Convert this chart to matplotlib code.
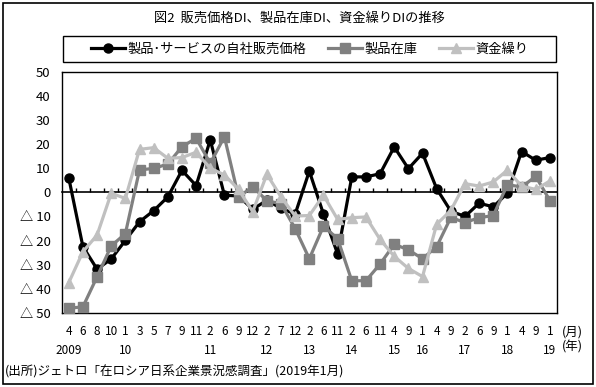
import matplotlib
matplotlib.use('Agg')
import matplotlib.pyplot as plt
from matplotlib.patches import Rectangle
import numpy as np

plt.rcParams['font.family'] = ['Noto Sans CJK JP', 'DejaVu Sans']

# survey months 2009/4 .. 2019/1
months = [4, 6, 8, 10, 1, 3, 5, 7, 9, 11, 2, 6, 9, 12, 2, 7, 12, 2, 6, 11,
          2, 6, 11, 4, 9, 1, 4, 9, 2, 6, 9, 1, 4, 9, 1]
years = ['2009', '10', '11', '12', '13', '14', '15', '16', '17', '18', '19']

price = [6, -22.5, -31.8, -27.6, -19.9, -12.2, -7.6, -1.9, 9.1, 2.8, 21.7,
         -1.2, -1.5, -7, -3.3, -6.6, -9, 8.8, -9, -25.5, 6.4, 6.4, 7.7, 18.8,
         9.8, 16.2, 1.5, -7.8, -10, -4.5, -6, -0.3, 16.9, 13.3, 14.4]
inventory = [-48, -47.4, -35, -22.2, -17.1, 9.3, 9.9, 11.7, 18.9, 22.4, 12,
             23, -2, 2.4, -3.5, -4.7, -15, -27.5, -14, -19.2, -36.6, -36.6,
             -29.7, -21.5, -23.8, -27.5, -22.5, -10.4, -12.5, -10.5, -9.6,
             3.2, 2.2, 6.6, -3.4]
funds = [-37.4, -24.6, -17.7, -0.4, -2.5, 17.8, 18.5, 14.1, 14.4, 16.6, 10,
         7.2, 1.2, -8, 7.5, -1.9, -9.8, -9.6, -1.2, -11.2, -10.5, -10.2,
         -19.5, -26.5, -31.5, -34.9, -13.2, -7.5, 3.6, 2.6, 4.3, 9.2, 2.6,
         1.2, 4.7]

labels = ['製品･サービスの自社販売価格', '製品在庫', '資金繰り']
colors = ['#000000', '#808080', '#c0c0c0']
markers = ['o', 's', '^']
msizes = [6.5, 6.5, 7]


def ylab(v):
    return '△ %d' % abs(v) if v < 0 else '%d' % v


fig = plt.figure(figsize=(5.96, 3.87), dpi=100)
ax = fig.add_axes([0.1035, 0.191, 0.831, 0.624])

x = np.arange(len(months))
for i, ser in enumerate([price, inventory, funds]):
    ax.plot(x, ser, color=colors[i], marker=markers[i], ms=msizes[i],
            lw=2.3, label=labels[i], zorder=3 + i)

ax.set_xlim(-0.5, len(months) - 0.5)
ax.set_ylim(-50, 50)
yt = np.arange(-50, 51, 10)
ax.set_yticks(yt)
ax.set_yticklabels([ylab(v) for v in yt], fontsize=9.5)
ax.tick_params(axis='y', length=0, pad=8)
ax.set_xticks(x)
ax.set_xticklabels([str(m) for m in months], fontsize=8.5)
ax.tick_params(axis='x', length=0, pad=8.5)
for s in ax.spines.values():
    s.set_linewidth(1)

# category axis crossing at zero, with ticks between categories
sec = ax.secondary_xaxis(0.5)
sec.set_xticks(np.arange(0.5, len(months) - 1, 1.0))
sec.tick_params(direction='out', length=3, width=1, labeltop=False,
                labelbottom=False)
sec.spines['top'].set_linewidth(1.2)

# year row under the first survey of each year
starts = [0] + [i for i in range(1, len(months)) if months[i] <= months[i - 1]]
tr = ax.get_xaxis_transform()
for xi, yr in zip(starts, years):
    ax.text(xi, -0.155, yr, transform=tr, ha='center', va='center',
            fontsize=8.5)
ax.text(len(months) + 0.6, -0.078, '(月)', transform=tr, ha='center',
        va='center', fontsize=9)
ax.text(len(months) + 0.6, -0.142, '(年)', transform=tr, ha='center',
        va='center', fontsize=9)

fig.text(0.503, 0.953, '図2  販売価格DI、製品在庫DI、資金繰りDIの推移',
         ha='center', va='center', fontsize=9.5)
fig.text(0.008, 0.038, '(出所)ジェトロ「在ロシア日系企業景況感調査」(2019年1月)',
         ha='left', va='center', fontsize=9)

fig.legend(loc='center', bbox_to_anchor=(0.52, 0.873), ncol=3,
           frameon=False, fontsize=9.5, handlelength=2.6, handletextpad=0.2,
           columnspacing=1.6, borderaxespad=0)
fig.add_artist(Rectangle((63 / 596, 1 - 62 / 387), 493 / 596, 26 / 387,
                         transform=fig.transFigure, fill=False, lw=1,
                         ec='black'))
fig.add_artist(Rectangle((0.005, 0.008), 0.99, 0.984,
                         transform=fig.transFigure, fill=False, lw=1.2,
                         ec='black'))

fig.savefig('out.png', dpi=100)
